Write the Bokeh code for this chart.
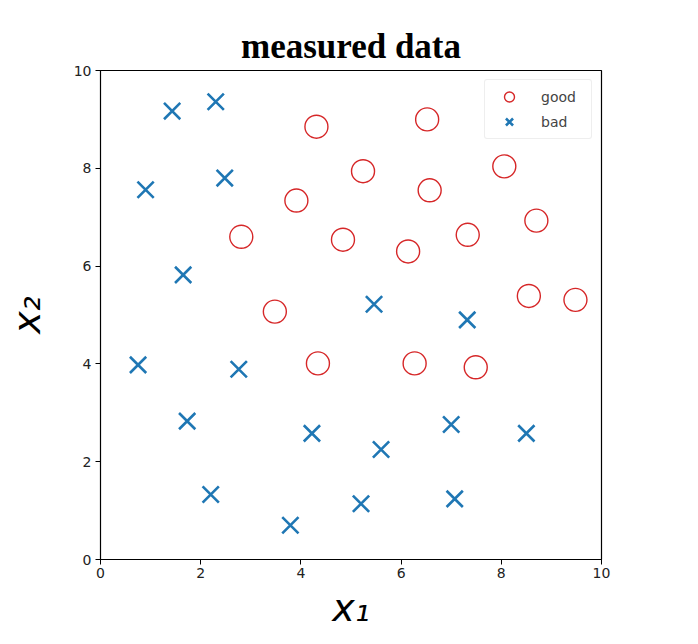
from bokeh.plotting import figure
from bokeh.models import Range1d, FixedTicker, Legend, LegendItem
from bokeh.embed import file_html
from bokeh.resources import INLINE

# good samples (red circles)
good_x1 = [4.31, 6.52, 5.24, 8.06, 3.91, 6.57, 2.81, 4.84, 6.14, 7.33, 8.70, 3.48, 8.55, 9.48, 4.34, 6.27, 7.49]
good_x2 = [8.85, 9.00, 7.94, 8.04, 7.34, 7.55, 6.60, 6.54, 6.30, 6.64, 6.93, 5.07, 5.39, 5.31, 4.01, 4.01, 3.93]

# bad samples (blue crosses)
bad_x1 = [1.43, 2.30, 0.90, 2.48, 1.65, 5.46, 7.32, 0.75, 2.76, 1.73, 4.22, 5.60, 7.00, 8.50, 2.20, 3.79, 5.20, 7.07]
bad_x2 = [9.17, 9.36, 7.56, 7.80, 5.82, 5.22, 4.90, 3.98, 3.89, 2.83, 2.58, 2.25, 2.76, 2.58, 1.33, 0.70, 1.14, 1.24]

ticks = [0, 2, 4, 6, 8, 10]

p = figure(width=690, height=636, output_backend="svg", toolbar_location=None,
           x_range=Range1d(0, 10), y_range=Range1d(0, 10),
           min_border_left=100, min_border_right=89, min_border_top=70, min_border_bottom=77)

p.title.text = "measured data"
p.title.text_font = "Liberation Serif"
p.title.text_font_size = "35px"
p.title.text_font_style = "bold"
p.title.align = "center"
p.title.text_color = "black"
p.title.standoff = 10

p.xgrid.visible = False
p.ygrid.visible = False
p.outline_line_color = "black"
p.outline_line_width = 1.2
p.outline_line_alpha = 1.0

for ax in (p.xaxis[0], p.yaxis[0]):
    ax.ticker = FixedTicker(ticks=ticks)
    ax.minor_tick_line_color = None
    ax.major_tick_in = 0
    ax.major_tick_out = 5
    ax.major_label_text_font = "DejaVu Sans"
    ax.major_label_text_font_size = "14px"
    ax.major_label_text_color = "#222222"
    ax.axis_line_color = "black"
    ax.major_tick_line_color = "black"
    ax.axis_label_text_font = "DejaVu Sans"
    ax.axis_label_text_font_size = "38px"
    ax.axis_label_text_font_style = "italic"
    ax.axis_label_text_color = "black"

p.xaxis.axis_label = "x\u2081"
p.yaxis.axis_label = "x\u2082"
p.xaxis.major_label_standoff = 3
p.yaxis.major_label_standoff = 4
p.xaxis.axis_label_standoff = 5
p.yaxis.axis_label_standoff = 22

r_good = p.scatter(good_x1, good_x2, marker="circle", size=23, fill_color=None,
                   line_color="#d62728", line_width=1.4)
r_bad = p.scatter(bad_x1, bad_x2, marker="x", size=23,
                  line_color="#1f77b4", line_width=2.6)

legend = Legend(items=[LegendItem(label="good", renderers=[r_good]),
                       LegendItem(label="bad", renderers=[r_bad])],
                location="top_right")
legend.label_text_font = "DejaVu Sans"
legend.label_text_font_size = "14px"
legend.glyph_width = 40
legend.glyph_height = 25
legend.label_width = 46
legend.label_height = 25
legend.spacing = 0
legend.padding = 4
legend.margin = 9
legend.label_standoff = 12
legend.border_line_color = "#dddddd"
legend.border_radius = 3
legend.background_fill_alpha = 0.8
p.add_layout(legend)

open("out.html", "w").write(file_html(p, INLINE))
